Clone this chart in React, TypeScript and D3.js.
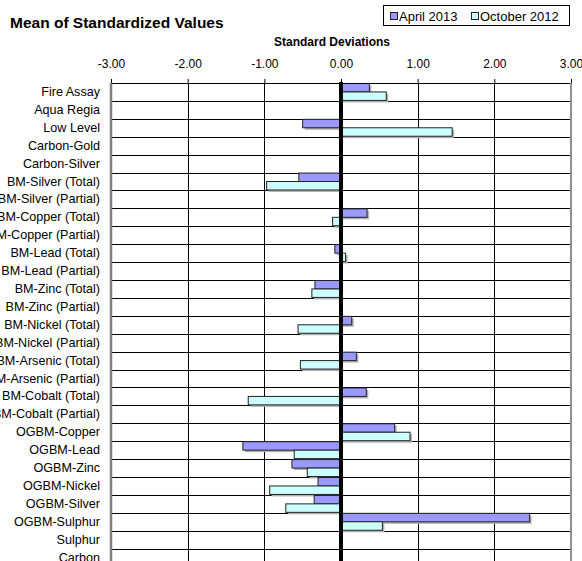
import React, { useEffect, useRef } from 'react';
import * as d3 from 'd3';

const categories = [
  'Fire Assay', 'Aqua Regia', 'Low Level', 'Carbon-Gold', 'Carbon-Silver',
  'BM-Silver (Total)', 'BM-Silver (Partial)', 'BM-Copper (Total)', 'BM-Copper (Partial)',
  'BM-Lead (Total)', 'BM-Lead (Partial)', 'BM-Zinc (Total)', 'BM-Zinc (Partial)',
  'BM-Nickel (Total)', 'BM-Nickel (Partial)', 'BM-Arsenic (Total)', 'BM-Arsenic (Partial)',
  'BM-Cobalt (Total)', 'BM-Cobalt (Partial)', 'OGBM-Copper', 'OGBM-Lead', 'OGBM-Zinc',
  'OGBM-Nickel', 'OGBM-Silver', 'OGBM-Sulphur', 'Sulphur', 'Carbon',
];

// null = no value for that category
const april2013 = [
  0.37, null, -0.50, null, null, -0.55, null, 0.34, null,
  -0.08, null, -0.34, null, 0.14, null, 0.20, null, 0.33, null,
  0.70, -1.28, -0.64, -0.30, -0.35, 2.46, null, null,
];
const october2012 = [
  0.59, null, 1.45, null, null, -0.97, null, -0.11, null,
  0.06, null, -0.38, null, -0.56, null, -0.53, null, -1.21, null,
  0.90, -0.61, -0.44, -0.93, -0.72, 0.54, null, null,
];

const seriesNames = ['April 2013', 'October 2012'];
const seriesColors = ['#9999FF', '#CCFFFF'];
const tickValues = [-3, -2, -1, 0, 1, 2, 3];

const FONT = '"Liberation Sans", Arial, sans-serif';

const App = () => {
  const ref = useRef<SVGSVGElement>(null);

  useEffect(() => {
    const svg = d3.select(ref.current);
    svg.selectAll('*').remove();

    const left = 111, right = 571, top = 83;
    const rowH = 17.91;
    const bottom = top + rowH * categories.length;

    const x = d3.scaleLinear().domain([-3, 3]).range([left, right]);
    const y = d3.scaleBand().domain(categories).range([top, bottom]).padding(0);
    const ySub = d3.scaleBand().domain(seriesNames).range([0, y.bandwidth()])
      .paddingInner(0).paddingOuter(0.06);

    const rows = categories.map((c, i) => ({ cat: c, vals: [april2013[i], october2012[i]] }));

    // title
    svg.append('text')
      .attr('x', 10).attr('y', 28)
      .style('font-family', FONT).style('font-size', '15.5px').style('font-weight', 'bold')
      .text('Mean of Standardized Values');

    // legend
    const lg = svg.append('g');
    lg.append('rect').attr('x', 383.5).attr('y', 5.5).attr('width', 186).attr('height', 20)
      .attr('fill', '#fff').attr('stroke', '#000');
    const legendX = [390, 471];
    seriesNames.forEach((s, i) => {
      lg.append('rect').attr('x', legendX[i] + 0.5).attr('y', 12.5).attr('width', 7).attr('height', 7)
        .attr('fill', seriesColors[i]).attr('stroke', '#222');
      lg.append('text').attr('x', legendX[i] + 9).attr('y', 20.5)
        .style('font-family', FONT).style('font-size', '13px').text(s);
    });

    // axis title
    svg.append('text')
      .attr('x', 332).attr('y', 46).attr('text-anchor', 'middle')
      .style('font-family', FONT).style('font-size', '12px').style('font-weight', 'bold')
      .text('Standard Deviations');

    // top axis
    const axis = svg.append('g').attr('transform', `translate(0,${top})`)
      .call(d3.axisTop(x).tickValues(tickValues).tickFormat((d: any) => (+d).toFixed(2))
        .tickSize(4).tickPadding(11));
    axis.select('.domain').remove();
    axis.selectAll('text').style('font-family', FONT).style('font-size', '12px').attr('fill', '#000');
    axis.selectAll('line').attr('stroke', '#000');

    // horizontal gridlines (category boundaries)
    svg.append('g').selectAll('line')
      .data(categories.map((c) => y(c)!))
      .enter().append('line')
      .attr('x1', left).attr('x2', right)
      .attr('y1', (d) => Math.round(d) + 0.5).attr('y2', (d) => Math.round(d) + 0.5)
      .attr('stroke', '#000');

    // vertical gridlines
    svg.append('g').selectAll('line')
      .data(tickValues.filter((t) => t !== 0 && Math.abs(t) !== 3))
      .enter().append('line')
      .attr('x1', (d) => Math.round(x(d)) + 0.5).attr('x2', (d) => Math.round(x(d)) + 0.5)
      .attr('y1', top).attr('y2', bottom)
      .attr('stroke', '#000');

    // bars
    const groups = svg.append('g').selectAll('g')
      .data(rows).enter().append('g')
      .attr('transform', (d) => `translate(0,${y(d.cat)})`);

    const barData = (d: any) => d.vals
      .map((v: number | null, i: number) => ({ v, i }))
      .filter((b: any) => b.v !== null);

    groups.selectAll('rect.shadow')
      .data(barData).enter().append('rect')
      .attr('class', 'shadow')
      .attr('x', (b: any) => Math.min(x(0), x(b.v)) + 2)
      .attr('y', (b: any) => ySub(seriesNames[b.i])! + 2)
      .attr('width', (b: any) => Math.abs(x(b.v) - x(0)))
      .attr('height', ySub.bandwidth())
      .attr('fill', '#b0b0b0');

    groups.selectAll('rect.bar')
      .data(barData).enter().append('rect')
      .attr('class', 'bar')
      .attr('x', (b: any) => Math.min(x(0), x(b.v)))
      .attr('y', (b: any) => ySub(seriesNames[b.i])!)
      .attr('width', (b: any) => Math.abs(x(b.v) - x(0)))
      .attr('height', ySub.bandwidth())
      .attr('fill', (b: any) => seriesColors[b.i])
      .attr('stroke', '#222').attr('stroke-width', 1);

    // category labels
    svg.append('g').selectAll('text')
      .data(categories).enter().append('text')
      .attr('x', 100).attr('y', (d) => y(d)! + y.bandwidth() / 2 - 0.5)
      .attr('dy', '0.36em').attr('text-anchor', 'end')
      .style('font-family', FONT).style('font-size', '12.6px')
      .text((d) => d);

    // top line, borders, zero line
    svg.append('line').attr('x1', left).attr('x2', right).attr('y1', top + 0.5).attr('y2', top + 0.5)
      .attr('stroke', '#000');
    svg.append('line').attr('x1', x(-3)).attr('x2', x(-3)).attr('y1', top).attr('y2', bottom)
      .attr('stroke', '#808080').attr('stroke-width', 2.5);
    svg.append('line').attr('x1', x(3)).attr('x2', x(3)).attr('y1', top).attr('y2', bottom)
      .attr('stroke', '#909090').attr('stroke-width', 2);
    svg.append('line').attr('x1', x(0)).attr('x2', x(0)).attr('y1', top - 1).attr('y2', bottom)
      .attr('stroke', '#000').attr('stroke-width', 4);
  }, []);

  return (
    <div style={{ position: 'absolute', left: 0, top: 0 }}>
      <svg ref={ref} width={582} height={561} style={{ display: 'block', background: '#fff' }} />
    </div>
  );
};

export default App;
